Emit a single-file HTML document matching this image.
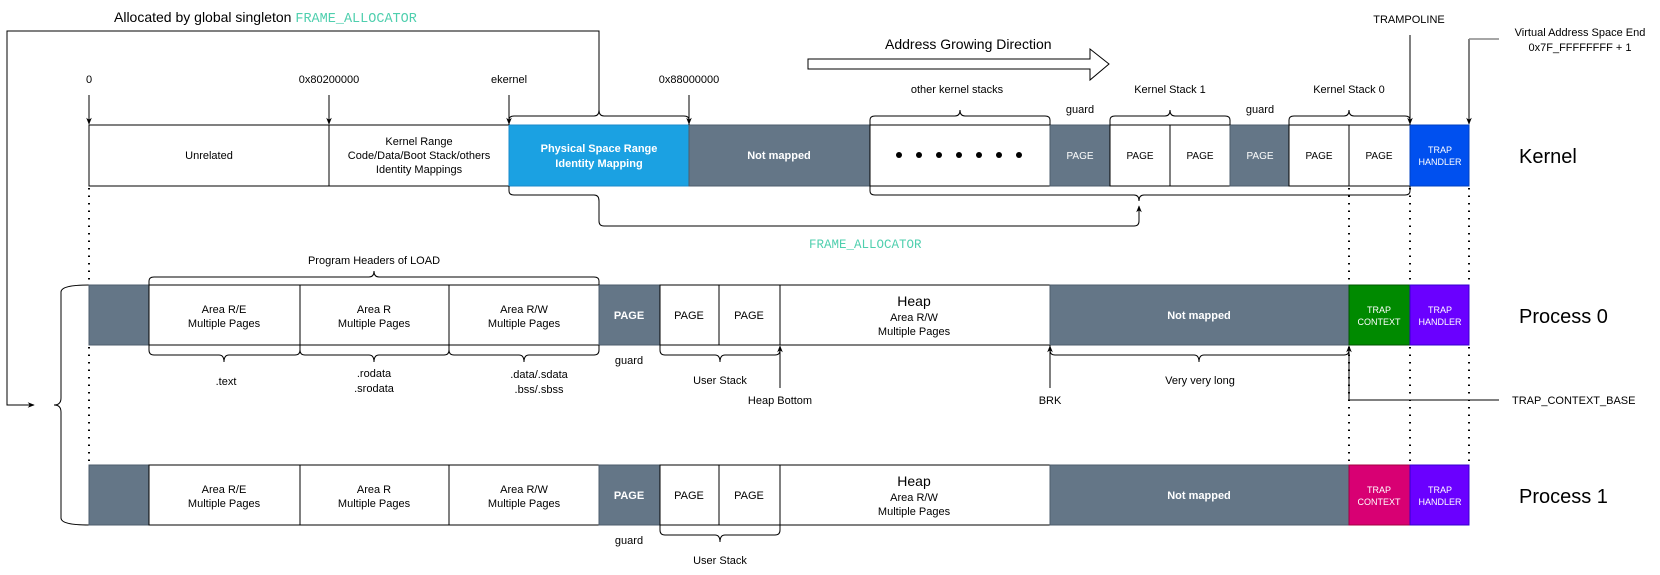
<!DOCTYPE html>
<html><head><meta charset="utf-8"><style>
html,body{margin:0;padding:0;background:#fff}
svg{display:block}
text{font-family:"Liberation Sans",Arial,sans-serif;font-size:11px;fill:#000}
.w{fill:#fff}
.m{font-family:"Liberation Mono",monospace;fill:#4fcfae}
</style></head><body>
<svg width="1660" height="575" viewBox="0 0 1660 575" xmlns="http://www.w3.org/2000/svg">
<defs>
<marker id="a" viewBox="0 0 10 10" refX="9" refY="5" markerWidth="7" markerHeight="7" orient="auto"><path d="M0,1 L10,5 L0,9 L3,5z" fill="#000"/></marker>
</defs>
<g fill="none" stroke="#000" stroke-width="1">
<path d="M599,110 L599,31 L7,31 L7,405 L34,405" marker-end="url(#a)"/>
<path d="M89,285 Q61,285 61,292 L61,398 Q61,405 54,405 Q61,405 61,412 L61,518 Q61,525 89,525"/>
</g>
<text x="114" y="22" style="font-size:14px">Allocated by global singleton <tspan class="m" style="font-size:13.5px">FRAME_ALLOCATOR</tspan></text>

<g stroke="#000" stroke-width="1">
<rect x="89" y="125" width="420" height="61" fill="#fff"/>
<line x1="329" y1="125" x2="329" y2="186"/>
<rect x="509" y="125" width="180" height="61" fill="#1ba1e2" stroke="#1a8acb"/>
<rect x="689" y="125" width="181" height="61" fill="#647687" stroke="#4e5d6c"/>
<rect x="870" y="125" width="180" height="61" fill="#fff"/>
<rect x="1050" y="125" width="60" height="61" fill="#647687" stroke="#4e5d6c"/>
<rect x="1110" y="125" width="120" height="61" fill="#fff"/>
<line x1="1170" y1="125" x2="1170" y2="186"/>
<rect x="1230" y="125" width="59" height="61" fill="#647687" stroke="#4e5d6c"/>
<rect x="1289" y="125" width="121" height="61" fill="#fff"/>
<line x1="1349" y1="125" x2="1349" y2="186"/>
<rect x="1410" y="125" width="59" height="61" fill="#0050ef" stroke="#0040c0"/>
</g>
<g text-anchor="middle">
<text x="209" y="159">Unrelated</text>
<text x="419" y="145">Kernel Range</text>
<text x="419" y="159">Code/Data/Boot Stack/others</text>
<text x="419" y="173">Identity Mappings</text>
<text x="599" y="152" class="w" font-weight="bold">Physical Space Range</text>
<text x="599" y="167" class="w" font-weight="bold">Identity Mapping</text>
<text x="779" y="159" class="w" font-weight="bold">Not mapped</text>
<text x="1080" y="159" class="w" style="font-size:10px">PAGE</text>
<text x="1140" y="159" style="font-size:10px">PAGE</text>
<text x="1200" y="159" style="font-size:10px">PAGE</text>
<text x="1260" y="159" class="w" style="font-size:10px">PAGE</text>
<text x="1319" y="159" style="font-size:10px">PAGE</text>
<text x="1379" y="159" style="font-size:10px">PAGE</text>
<text x="1440" y="153" class="w" style="font-size:9px">TRAP</text>
<text x="1440" y="165" class="w" style="font-size:9px">HANDLER</text>
</g>
<g fill="#000">
<circle cx="899" cy="155" r="3"/><circle cx="919" cy="155" r="3"/><circle cx="939" cy="155" r="3"/><circle cx="959" cy="155" r="3"/><circle cx="979" cy="155" r="3"/><circle cx="999" cy="155" r="3"/><circle cx="1019" cy="155" r="3"/>
</g>
<text x="1519" y="163" style="font-size:20px">Kernel</text>

<g text-anchor="middle">
<text x="89" y="83">0</text>
<text x="329" y="83">0x80200000</text>
<text x="509" y="83">ekernel</text>
<text x="689" y="83">0x88000000</text>
<text x="957" y="93">other kernel stacks</text>
<text x="1170" y="93">Kernel Stack 1</text>
<text x="1349" y="93">Kernel Stack 0</text>
<text x="1080" y="113">guard</text>
<text x="1260" y="113">guard</text>
<text x="1409" y="23">TRAMPOLINE</text>
<text x="1580" y="36">Virtual Address Space End</text>
<text x="1580" y="51">0x7F_FFFFFFFF + 1</text>
</g>
<g fill="none" stroke="#000">
<line x1="89" y1="95" x2="89" y2="124" marker-end="url(#a)"/>
<line x1="329" y1="95" x2="329" y2="124" marker-end="url(#a)"/>
<line x1="509" y1="95" x2="509" y2="124" marker-end="url(#a)"/>
<line x1="689" y1="95" x2="689" y2="124" marker-end="url(#a)"/>
<line x1="1410" y1="35" x2="1410" y2="124" marker-end="url(#a)"/>
<line x1="1469" y1="39" x2="1469" y2="124" marker-end="url(#a)"/>
</g>
<line x1="1469" y1="39" x2="1499" y2="39" stroke="#888" stroke-width="1.5"/>
<path d="M808,59 L1090,59 L1090,49 L1109,64 L1090,80 L1090,69 L808,69 Z" fill="#fff" stroke="#000"/>
<text x="885" y="49" style="font-size:14px">Address Growing Direction</text>

<g fill="none" stroke="#000">
<path d="M509,125 L509,120 Q509,116 514,116 L594,116 Q599,116 599,110 Q599,116 604,116 L684,116 Q689,116 689,120 L689,125"/>
<path d="M870,125 L870,120 Q870,116 875,116 L955,116 Q960,116 960,110 Q960,116 965,116 L1045,116 Q1050,116 1050,120 L1050,125"/>
<path d="M1110,125 L1110,120 Q1110,116 1115,116 L1165,116 Q1170,116 1170,110 Q1170,116 1175,116 L1225,116 Q1230,116 1230,120 L1230,125"/>
<path d="M1289,125 L1289,120 Q1289,116 1294,116 L1344,116 Q1349,116 1349,110 Q1349,116 1354,116 L1405,116 Q1410,116 1410,120 L1410,125"/>
<path d="M509,186 L509,191 Q509,195 514,195 L594,195 Q599,195 599,201 L599,221 Q599,226 604,226 L1134,226 Q1139,226 1139,221 L1139,206" marker-end="url(#a)"/>
<path d="M870,186 L870,191 Q870,195 875,195 L1134,195 Q1139,195 1139,201 Q1139,195 1144,195 L1405,195 Q1410,195 1410,191 L1410,186"/>
</g>
<text x="809" y="248" class="m" style="font-size:12.5px">FRAME_ALLOCATOR</text>

<g stroke="#000" stroke-width="2" stroke-dasharray="1.5,6" fill="none">
<line x1="89" y1="188" x2="89" y2="284"/>
<line x1="89" y1="347" x2="89" y2="464"/>
<line x1="1349" y1="188" x2="1349" y2="284"/>
<line x1="1410" y1="188" x2="1410" y2="284"/>
<line x1="1469" y1="188" x2="1469" y2="284"/>
<line x1="1349" y1="347" x2="1349" y2="464"/>
<line x1="1410" y1="347" x2="1410" y2="464"/>
<line x1="1469" y1="347" x2="1469" y2="464"/>
</g>

<g stroke="#000" stroke-width="1">
<rect x="89" y="285" width="60" height="60" fill="#647687" stroke="#4e5d6c"/>
<rect x="149" y="285" width="450" height="60" fill="#fff"/>
<line x1="300" y1="285" x2="300" y2="345"/>
<line x1="449" y1="285" x2="449" y2="345"/>
<rect x="599" y="285" width="61" height="60" fill="#647687" stroke="#4e5d6c"/>
<rect x="660" y="285" width="390" height="60" fill="#fff"/>
<line x1="719" y1="285" x2="719" y2="345"/>
<line x1="780" y1="285" x2="780" y2="345"/>
<rect x="1050" y="285" width="299" height="60" fill="#647687" stroke="#4e5d6c"/>
<rect x="1349" y="285" width="61" height="60" fill="#008a00" stroke="#005700"/>
<rect x="1410" y="285" width="59" height="60" fill="#6a00ff" stroke="#3700cc"/>
</g>
<g stroke="#000" stroke-width="1">
<rect x="89" y="465" width="60" height="60" fill="#647687" stroke="#4e5d6c"/>
<rect x="149" y="465" width="450" height="60" fill="#fff"/>
<line x1="300" y1="465" x2="300" y2="525"/>
<line x1="449" y1="465" x2="449" y2="525"/>
<rect x="599" y="465" width="61" height="60" fill="#647687" stroke="#4e5d6c"/>
<rect x="660" y="465" width="390" height="60" fill="#fff"/>
<line x1="719" y1="465" x2="719" y2="525"/>
<line x1="780" y1="465" x2="780" y2="525"/>
<rect x="1050" y="465" width="299" height="60" fill="#647687" stroke="#4e5d6c"/>
<rect x="1349" y="465" width="61" height="60" fill="#d80073" stroke="#a50040"/>
<rect x="1410" y="465" width="59" height="60" fill="#6a00ff" stroke="#3700cc"/>
</g>
<g text-anchor="middle">
<text x="224" y="313">Area R/E</text><text x="224" y="327">Multiple Pages</text>
<text x="374" y="313">Area R</text><text x="374" y="327">Multiple Pages</text>
<text x="524" y="313">Area R/W</text><text x="524" y="327">Multiple Pages</text>
<text x="629" y="319" class="w" font-weight="bold">PAGE</text>
<text x="689" y="319">PAGE</text>
<text x="749" y="319">PAGE</text>
<text x="914" y="306" style="font-size:14px">Heap</text>
<text x="914" y="321">Area R/W</text><text x="914" y="335">Multiple Pages</text>
<text x="1199" y="319" class="w" font-weight="bold">Not mapped</text>
<text x="1379" y="313" class="w" style="font-size:9px">TRAP</text>
<text x="1379" y="325" class="w" style="font-size:9px">CONTEXT</text>
<text x="1440" y="313" class="w" style="font-size:9px">TRAP</text>
<text x="1440" y="325" class="w" style="font-size:9px">HANDLER</text>

<text x="224" y="493">Area R/E</text><text x="224" y="507">Multiple Pages</text>
<text x="374" y="493">Area R</text><text x="374" y="507">Multiple Pages</text>
<text x="524" y="493">Area R/W</text><text x="524" y="507">Multiple Pages</text>
<text x="629" y="499" class="w" font-weight="bold">PAGE</text>
<text x="689" y="499">PAGE</text>
<text x="749" y="499">PAGE</text>
<text x="914" y="486" style="font-size:14px">Heap</text>
<text x="914" y="501">Area R/W</text><text x="914" y="515">Multiple Pages</text>
<text x="1199" y="499" class="w" font-weight="bold">Not mapped</text>
<text x="1379" y="493" class="w" style="font-size:9px">TRAP</text>
<text x="1379" y="505" class="w" style="font-size:9px">CONTEXT</text>
<text x="1440" y="493" class="w" style="font-size:9px">TRAP</text>
<text x="1440" y="505" class="w" style="font-size:9px">HANDLER</text>

<text x="374" y="264">Program Headers of LOAD</text>
<text x="226" y="385">.text</text>
<text x="374" y="377">.rodata</text><text x="374" y="392">.srodata</text>
<text x="539" y="378">.data/.sdata</text><text x="539" y="393">.bss/.sbss</text>
<text x="629" y="364">guard</text>
<text x="720" y="384">User Stack</text>
<text x="780" y="404">Heap Bottom</text>
<text x="1050" y="404">BRK</text>
<text x="1200" y="384">Very very long</text>
<text x="629" y="544">guard</text>
<text x="720" y="564">User Stack</text>
</g>
<text x="1512" y="404">TRAP_CONTEXT_BASE</text>
<text x="1519" y="323" style="font-size:20px">Process 0</text>
<text x="1519" y="503" style="font-size:20px">Process 1</text>

<g fill="none" stroke="#000">
<path d="M149,285 L149,281 Q149,277 154,277 L369,277 Q374,277 374,271 Q374,277 379,277 L594,277 Q599,277 599,281 L599,285"/>
<path d="M149,345 L149,350 Q149,355 154,355 L219,355 Q224,355 224,362 Q224,355 229,355 L295,355 Q300,355 300,350"/>
<path d="M300,345 L300,350 Q300,355 305,355 L369,355 Q374,355 374,362 Q374,355 379,355 L444,355 Q449,355 449,350"/>
<path d="M449,345 L449,350 Q449,355 454,355 L519,355 Q524,355 524,362 Q524,355 529,355 L594,355 Q599,355 599,350 L599,345"/>
<path d="M660,345 L660,350 Q660,355 665,355 L715,355 Q720,355 720,362 Q720,355 725,355 L775,355 Q780,355 780,350"/>
<path d="M1050,345 L1050,350 Q1050,355 1055,355 L1194,355 Q1199,355 1199,362 Q1199,355 1204,355 L1344,355 Q1349,355 1349,350"/>
<path d="M660,525 L660,530 Q660,535 665,535 L715,535 Q720,535 720,542 Q720,535 725,535 L775,535 Q780,535 780,530 L780,525"/>
<line x1="780" y1="388" x2="780" y2="346" marker-end="url(#a)"/>
<line x1="1050" y1="388" x2="1050" y2="346" marker-end="url(#a)"/>
<path d="M1499,400 L1349,400 L1349,346" marker-end="url(#a)"/>
</g>
</svg>
</body></html>
